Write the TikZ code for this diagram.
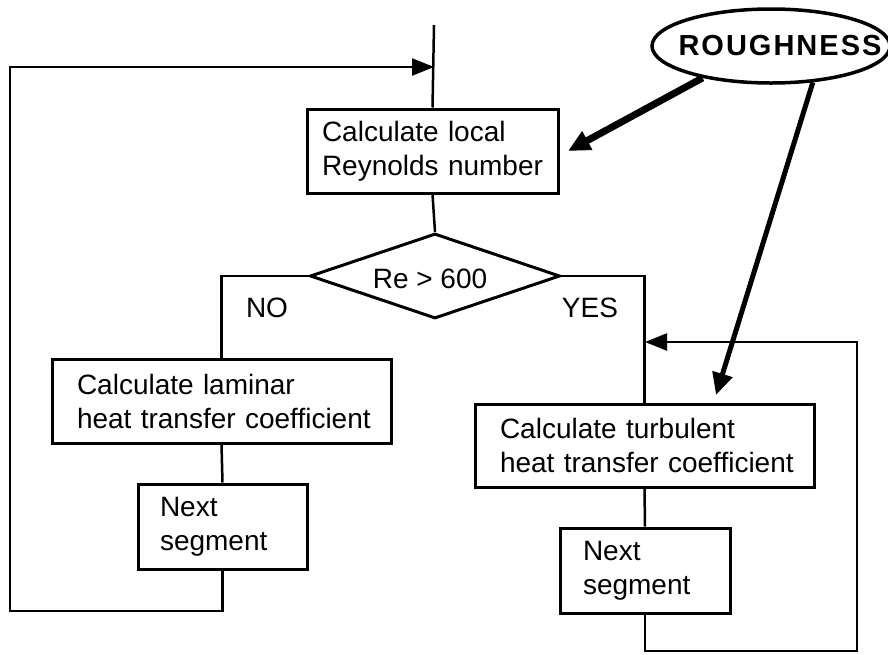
\documentclass[tikz,border=0pt]{standalone}
\usepackage{fontspec}
\setmainfont{Liberation Sans}
\usetikzlibrary{shapes.geometric,arrows.meta}
\begin{document}
\begin{tikzpicture}[x=1pt,y=-1pt,
  every node/.style={font=\fontsize{28}{34}\selectfont},
  procbox/.style={draw,line width=3pt,align=left,inner ysep=0pt},
  conn/.style={line width=2.5pt},
  loopArrow/.style={conn,-{Triangle[length=22pt,width=17pt]}},
  roughArrow/.style={-{Triangle[length=22pt,width=20pt]}},
  lbl/.style={inner sep=0pt}
]
\useasboundingbox (0,0) rectangle (888,654);
\fill[white] (0,0) rectangle (888,654);

% nodes
\node[procbox,minimum width=251pt,minimum height=84pt,inner xsep=15pt,text width=221pt] (reyn) at (432.5,151) {\mbox{Calculate local}\\\mbox{Reynolds number}};
\node[draw,diamond,line width=3pt,inner sep=0pt,minimum width=250pt,minimum height=85pt] (dia) at (435,276) {};
\node[lbl] (retxt) at (430,279) {Re > 600};
\node[lbl] (no) at (267,308) {NO};
\node[lbl] (yes) at (590,308) {YES};
\node[procbox,minimum width=339pt,minimum height=84pt,inner xsep=25pt,text width=289pt] (lam) at (221.5,401) {\mbox{Calculate laminar}\\\mbox{heat transfer coefficient}};
\node[procbox,minimum width=339pt,minimum height=83pt,inner xsep=25pt,text width=289pt] (turb) at (644.5,445.5) {\mbox{Calculate turbulent}\\\mbox{heat transfer coefficient}};
\node[procbox,minimum width=169pt,minimum height=85pt,inner xsep=22pt,text width=125pt] (nextL) at (222.5,526.5) {\mbox{Next}\\\mbox{segment}};
\node[procbox,minimum width=170pt,minimum height=85pt,inner xsep=23pt,text width=124pt] (nextR) at (645,570.5) {\mbox{Next}\\\mbox{segment}};
\node[draw,ellipse,line width=3.5pt,inner sep=0pt,minimum width=238pt,minimum height=74pt] (rough) at (771,46)
  {\makebox[0pt]{\hspace*{18pt}\fontsize{29}{34}\selectfont\bfseries R\kern2pt O\kern2pt U\kern2pt G\kern2pt H\kern2pt N\kern2pt E\kern2pt S\kern2pt S}};

% coordinates
\coordinate (topin) at (434,25);
\coordinate (in1) at (434,67);
\coordinate (cL) at (10,611);
\coordinate (in2) at (645,342);
\coordinate (cR) at (857,651);
\coordinate (t1) at (568,151);
\coordinate (t2) at (716,395);

% connectors
\draw[conn] (topin) -- (reyn.north);
\draw[conn] (reyn.south) -- (dia.north);
\draw[conn] (dia.west) -| (lam.north);
\draw[conn] (dia.east) -| (turb.north);
\draw[conn] (lam.south) -- (nextL.north);
\draw[conn] (turb.south) -- (nextR.north);
\draw[loopArrow] (nextL.south) |- (cL) |- (in1);
\draw[loopArrow] (nextR.south) |- (cR) |- (in2);
\draw[roughArrow,line width=7pt] (rough.205) -- (t1);
\draw[roughArrow,line width=5pt] (rough.319) -- (t2);
\end{tikzpicture}
\end{document}
